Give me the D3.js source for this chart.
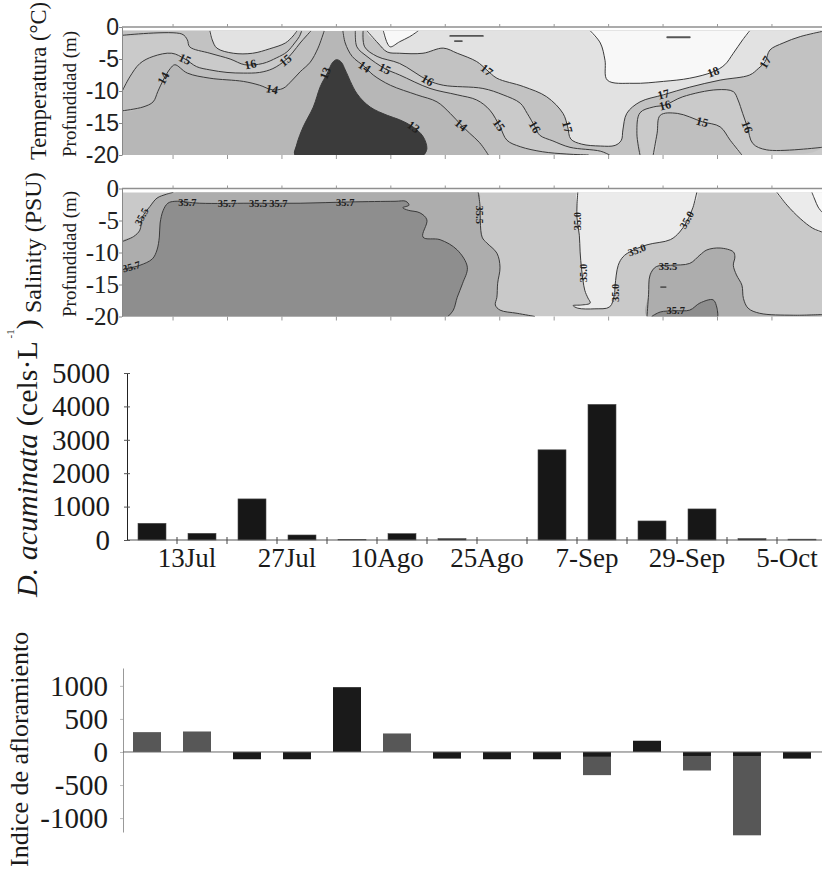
<!DOCTYPE html>
<html><head><meta charset="utf-8">
<script src="https://cdn.jsdelivr.net/npm/d3@7/dist/d3.min.js"></script>
<style>html,body{margin:0;padding:0;background:#fff;} svg{display:block;}</style>
</head><body>
<svg width="822" height="870" xmlns="http://www.w3.org/2000/svg"></svg>
<script>
// ================= DATA =================
// sections: x = day of the survey period, y = depth (m)
const dayExtent = [0, 90];
const depthExtent = [-20, 0];
const sampledTop = -0.6;
const depthTicks = [0, -5, -10, -15, -20];
const weekTicks = [6.5, 13.5, 20.5, 27.5, 34.5, 41.5, 48.5, 55.5, 62.5, 69.5, 76.5, 83.5];

// ---- temperature isotherms [day, depth]
const t13 = [[22.2,-20],[22.5,-18.2],[23.3,-15.6],[24.6,-12.5],[25.5,-9.3],[26.4,-7.2],[27.1,-5.5],[27.6,-5.1],[28.2,-5.5],[28.7,-6.7],[30.2,-10.4],[31.9,-12.5],[34.1,-13.8],[35.7,-14.5],[37.4,-15.6],[38.7,-17.1],[39.2,-19.0],[38.8,-20]];
const t14a = [[0,-13.1],[2.7,-12.5],[4.0,-11.7],[4.6,-10.1],[5.3,-8.3],[6.2,-6.5],[6.8,-5.9],[8.4,-7.2],[11.3,-8.0],[15.6,-8.5],[17.7,-9.1],[19.3,-9.8],[20.7,-9.6],[21.9,-8.3],[22.9,-7.0],[24.2,-5.5],[25.2,-3.3],[26.0,-0.6]];
const t14b = [[28.4,-0.6],[28.7,-2.5],[29.6,-4.6],[31.2,-6.2],[32.3,-7.5],[34.5,-9.1],[37.9,-10.6],[40.5,-11.7],[42.2,-13.5],[43.6,-15.3],[44.7,-16.6],[46.0,-18.1],[47.1,-20]];
const t15a = [[0,-10.1],[1.0,-7.8],[2.3,-5.7],[4.0,-4.6],[6.4,-4.1],[8.1,-5.0],[9.6,-6.2],[11.3,-6.7],[13.5,-7.1],[15.6,-7.2],[17.7,-7.1],[19.4,-6.5],[21.0,-5.2],[22.0,-3.9],[22.9,-2.5],[23.7,-1.4],[24.3,-0.6]];
const t15b = [[30.0,-0.6],[30.2,-3.1],[31.5,-4.6],[33.8,-6.5],[35.7,-7.5],[39.6,-9.6],[43.1,-10.6],[45.6,-11.4],[47.3,-13.0],[48.6,-15.6],[49.5,-17.7],[51.2,-18.7],[54.1,-19.5],[57.2,-19.85],[60.0,-20]];
const t15c = [[68.3,-20],[68.8,-16.6],[69.2,-13.8],[71.4,-13.5],[74.6,-14.8],[76.9,-15.6],[78.2,-17.7],[79.7,-20]];
const t16a = [[0,-1.3],[7.7,-1.1],[8.4,-2.0],[8.7,-3.1],[11.3,-4.1],[13.9,-5.0],[15.8,-5.9],[18.1,-5.7],[19.9,-4.8],[21.2,-3.9],[22.2,-2.5],[22.8,-1.5],[23.1,-0.6]];
const t16b = [[31.0,-0.6],[31.2,-3.1],[32.8,-4.6],[35.7,-5.7],[39.3,-8.3],[41.3,-9.1],[46.4,-9.6],[49.0,-10.6],[51.2,-11.9],[52.1,-13.5],[53.1,-15.6],[53.7,-16.9],[55.4,-17.8],[57.6,-18.8],[61.5,-19.4],[62.7,-20]];
const t16c = [[66.6,-20],[66.2,-16.6],[66.6,-13.4],[68.3,-12.5],[69.8,-12.2],[72.1,-10.9],[76.5,-9.8],[78.6,-10.1],[79.2,-11.4],[79.8,-13.5],[80.4,-15.6],[81.1,-18.2],[82.9,-19.2],[90,-18.8]];
const t17a = [[11.3,-0.6],[11.6,-2.0],[12.2,-3.3],[14.3,-4.1],[16.8,-4.1],[19.0,-3.4],[21.0,-2.5],[22.0,-1.4],[22.5,-0.6]];
const t17b = [[31.5,-0.6],[32.9,-2.5],[34.1,-3.9],[35.7,-4.1],[38.7,-4.1],[41.3,-3.3],[43.1,-4.1],[45.6,-5.4],[46.9,-6.7],[48.2,-8.0],[51.6,-9.3],[54.6,-10.9],[56.7,-13.5],[57.3,-15.6],[57.7,-17.5],[59.1,-18.3],[61.5,-18.6],[63.4,-18.5],[64.2,-17.7],[64.4,-16.1],[64.9,-13.5],[66.6,-11.7],[69.6,-10.6],[73.0,-9.4],[76.9,-8.3],[80.7,-7.5],[81.8,-6.5],[82.7,-5.4],[83.3,-3.6],[85.0,-2.5],[87.2,-1.5],[90,-0.7]];
const t18a = [[33.6,-0.6],[34.1,-2.5],[34.5,-3.1],[35.7,-2.3],[37.0,-1.5],[38.1,-0.6]];
const t18b = [[60.2,-0.6],[61.5,-2.5],[62.1,-5.2],[62.4,-8.3],[65.7,-8.8],[69.6,-8.5],[73.0,-8.0],[76.0,-7.0],[77.5,-5.9],[78.6,-4.1],[79.8,-2.0],[80.7,-0.6]];
const t18specks = [[[42.2,-1.4],[46.4,-1.4]], [[42.8,-2.2],[43.7,-2.2]], [[70.1,-1.6],[73.0,-1.6]]];
// isotherm labels [text, day, depth]
const tempLabels = [["14",5.3,-8.0],["15",8.1,-5.0],["16",16.5,-5.8],["15",21.0,-5.2],["14",19.3,-9.7],["13",26.1,-7.2],["13",37.5,-15.6],["14",31.2,-6.2],["15",33.8,-6.5],["16",39.3,-8.3],["17",46.9,-6.7],["14",43.6,-15.3],["15",48.5,-15.3],["16",53.1,-15.6],["17",57.3,-15.6],["18",76.0,-7.0],["17",69.6,-10.5],["16",69.8,-12.2],["15",74.6,-14.8],["16",80.4,-15.6],["17",82.7,-5.5]];

// ---- salinity isohalines [day, depth]
const s350a = [[58.6,-0.6],[58.5,-2.6],[58.5,-4.6],[58.8,-7.3],[58.9,-9.9],[59.1,-12.7],[59.5,-15.9],[59.9,-17.1],[60.2,-17.9],[59.1,-18.2],[58.0,-18.3],[58.6,-18.7],[60.8,-18.8],[62.7,-18.5],[63.3,-16.6],[63.4,-15.1],[63.8,-12.0],[64.4,-10.7],[65.3,-9.9],[67.5,-8.8],[70.5,-8.0],[71.7,-6.8],[72.6,-5.2],[73.4,-3.0],[73.9,-0.6]];
const s350b = [[84.2,-0.6],[85.5,-2.6],[87.2,-4.7],[88.8,-6.2],[90,-6.8]];
const s345 = [[88.7,-0.6],[89.1,-1.8],[89.5,-2.9],[90,-3.7]];
const s355a = [[0,-8.3],[1.5,-7.5],[2.3,-6.5],[2.6,-4.5],[3.6,-2.8],[4.5,-1.5],[5.7,-0.9],[6.6,-0.6]];
const s355b = [[45.8,-0.6],[46.0,-2.3],[46.3,-7.6],[46.9,-8.5],[48.2,-10.1],[48.6,-12.3],[48.3,-14.8],[48.2,-17.0],[48.0,-18.2],[48.6,-19.0],[50.8,-19.5],[53.1,-20]];
const s355c = [[67.5,-20],[67.7,-16.6],[67.9,-13.5],[68.7,-12.2],[70.5,-12.0],[73.0,-11.7],[74.3,-10.4],[75.2,-9.6],[76.9,-9.3],[78.6,-9.9],[78.8,-10.7],[78.6,-12.0],[79.0,-13.5],[79.7,-15.1],[79.9,-17.2],[80.5,-18.7],[82.0,-19.5],[86.3,-19.8],[90,-19.7]];
const s357a = [[0,-12.7],[2.3,-12.0],[3.9,-11.0],[4.5,-9.6],[4.8,-7.6],[4.9,-5.4],[5.3,-3.4],[5.9,-2.3],[6.8,-2.0],[10.0,-2.3],[16.5,-2.3],[22.9,-2.3],[29.3,-2.1],[35.1,-2.0],[36.5,-2.0],[36.9,-2.6],[36.1,-3.0],[36.8,-3.4],[38.3,-3.8],[39.2,-4.9],[38.7,-7.6],[40.9,-8.0],[43.1,-9.6],[44.4,-12.3],[43.8,-14.8],[43.1,-17.0],[42.6,-19.0],[41.9,-20]];
const s357b = [[68.1,-20],[69.2,-19.3],[71.1,-19.1],[73.0,-19.0],[74.3,-17.9],[76.0,-17.4],[76.5,-18.7],[76.6,-20]];
const salSpecks = [[[69.3,-15.4],[69.9,-15.4]]];
const salLabels = [["35.5",2.5,-4.4],["35.7",1.2,-12.2],["35.7",8.4,-2.2],["35.7",13.5,-2.3],["35.5",17.5,-2.3],["35.7",20.1,-2.3],["35.7",28.7,-2.1],["35.5",46.0,-4.1],["35.0",58.5,-5.1],["35.0",59.3,-13.2],["35.0",63.4,-16.3],["35.0",66.2,-9.6],["35.0",72.6,-4.9],["35.5",70.2,-12.2],["35.7",71.2,-19.0]];

// ---- D. acuminata (cels/L) per sample
const samples = ["M1","M2","M3","M4","M5","M6","M7","M8","M9","M10","M11","M12","M13","M14"];
const acuminata = [500, 200, 1230, 150, 20, 190, 40, 0, 2700, 4060, 570, 930, 40, 25];
const acuminataTicks = [0, 1000, 2000, 3000, 4000, 5000];
const dateLabels = ["13Jul", "27Jul", "10Ago", "25Ago", "7-Sep", "29-Sep", "5-Oct"];
const dateLabelSlots = [1, 3, 5, 7, 9, 11, 13];

// ---- upwelling index per sample (two overlaid series)
const upwellingGray = [300, 310, null, null, null, 280, null, null, null, -350, null, -280, -1260, null];
const upwellingBlack = [null, null, -110, -110, 980, null, -100, -110, -110, -70, 170, -60, -60, -100];
const upwellingTicks = [1000, 500, 0, -500, -1000];

// ================= STYLE =================
const serif = "'Liberation Serif','Times New Roman',serif";
const sans = "'Liberation Sans',Arial,sans-serif";
const tempColor = {base: "#b7b7b7", 13: "#3b3b3b", 14: "#bfbfbf", 15: "#cacaca", 16: "#c2c2c2", 17: "#e2e2e2", 18: "#f8f8f8"};
const salColor = {base: "#c9c9c9", 34.5: "#f9f9f9", 35.0: "#ebebeb", 35.5: "#adadad", 35.7: "#8e8e8e"};
const tempAngles = [-62, 25, -12, -40, 12, -68, 35, 35, 25, 30, 38, 40, 55, 60, 75, -20, -15, -15, 15, 70, -60];
const salAngles = [-62, -15, 0, 0, 0, 0, 0, 90, -90, -90, -90, -20, -60, 0, 0];

const svg = d3.select("svg");
const xSec = d3.scaleLinear().domain(dayExtent).range([122, 822]);
const yT = d3.scaleLinear().domain(depthExtent).range([155, 27]);
const yS = d3.scaleLinear().domain(depthExtent).range([316.5, 188.5]);

const X0 = dayExtent[0], X1 = dayExtent[1], TOP = sampledTop, BOT = depthExtent[0];

const tempFills = [
  {c: 14, p: [[X0, TOP], ...t14a]},
  {c: 14, p: [...t14b, [X1, BOT], [X1, TOP]]},
  {c: 15, p: [[X0, TOP], ...t15a]},
  {c: 15, p: [...t15b, ...t15c, [X1, BOT], [X1, TOP]]},
  {c: 16, p: [[X0, TOP], ...t16a]},
  {c: 16, p: [...t16b, ...t16c, [X1, TOP]]},
  {c: 17, p: t17a},
  {c: 17, p: [...t17b, [X1, TOP]]},
  {c: 18, p: t18a},
  {c: 18, p: t18b},
  {c: 13, p: t13}
];
const tempLines = [t13, t14a, t14b, t15a, t15b, t15c, t16a, t16b, t16c, t17a, t17b, t18a, t18b];

const salFills = [
  {c: 35.5, p: [...s355a, ...s355b, [X0, BOT]]},
  {c: 35.5, p: [...s355c, [X1, BOT]]},
  {c: 35.7, p: [...s357a, [X0, BOT]]},
  {c: 35.7, p: s357b},
  {c: 35.0, p: s350a},
  {c: 35.0, p: [...s350b, [X1, TOP]]},
  {c: 34.5, p: [...s345, [X1, TOP]]}
];
const salLines = [s350a, s350b, s345, s355a, s355b, s355c, s357a, s357b];

function drawSection(key, y, spec) {
  const g = svg.append("g");
  const x0 = xSec(X0), x1 = xSec(X1), yTop = y(TOP), yBot = y(BOT);
  g.append("clipPath").attr("id", "clip-" + key).append("rect")
    .attr("x", x0).attr("y", yTop).attr("width", x1 - x0).attr("height", yBot - yTop);
  const body = g.append("g").attr("clip-path", `url(#clip-${key})`);
  body.append("rect").attr("x", x0).attr("y", yTop).attr("width", x1 - x0).attr("height", yBot - yTop)
    .attr("fill", spec.colors.base);
  const area = d3.line().x(d => xSec(d[0])).y(d => y(d[1])).curve(d3.curveCatmullRomClosed.alpha(0.5));
  const line = d3.line().x(d => xSec(d[0])).y(d => y(d[1])).curve(d3.curveCatmullRom.alpha(0.5));
  spec.fills.forEach(f => body.append("path").attr("d", area(f.p)).attr("fill", spec.colors[f.c]));
  spec.lines.forEach(p => body.append("path").attr("d", line(p)).attr("fill", "none")
    .attr("stroke", "#3a3a3a").attr("stroke-width", 1));
  spec.specks.forEach(p => body.append("path").attr("d", line(p)).attr("fill", "none")
    .attr("stroke", "#555").attr("stroke-width", 1.8).attr("stroke-linecap", "round"));
  spec.labels.forEach((l, i) => {
    body.append("text")
      .attr("transform", `translate(${xSec(l[1])},${y(l[2])}) rotate(${spec.angles[i]})`)
      .attr("text-anchor", "middle").attr("dy", "0.35em")
      .attr("font-family", serif).attr("font-size", spec.labelSize).attr("font-weight", "bold")
      .attr("fill", "#1e1e1e").text(l[0]);
  });
  // frame line on top
  g.append("line").attr("x1", x0).attr("x2", x1).attr("y1", y(0)).attr("y2", y(0))
    .attr("stroke", "#8f8f8f").attr("stroke-width", 1.6);
  // week ticks
  g.append("g").attr("transform", `translate(0,${y(0)})`)
    .call(d3.axisTop(xSec).tickValues(weekTicks).tickSize(3).tickFormat(""))
    .call(s => { s.select(".domain").remove(); s.selectAll("line").attr("stroke", "#999"); });
  g.append("g").attr("transform", `translate(0,${yBot})`)
    .call(d3.axisBottom(xSec).tickValues(weekTicks).tickSize(4).tickFormat(""))
    .call(s => { s.select(".domain").remove(); s.selectAll("line").attr("stroke", "#999"); });
  // depth axis
  g.append("g").attr("transform", `translate(${x0},0)`)
    .call(d3.axisLeft(y).tickValues(depthTicks).tickSize(3).tickSizeOuter(0).tickPadding(0).tickFormat(d => String(d)))
    .call(s => {
      s.select(".domain").attr("stroke", "#888");
      s.selectAll(".tick line").attr("stroke", "#888");
      s.selectAll("text").attr("font-family", spec.tickFont).attr("font-size", spec.tickSize).attr("fill", "#222");
    });
}

drawSection("temp", yT, {colors: tempColor, fills: tempFills, lines: tempLines, specks: t18specks,
  labels: tempLabels, angles: tempAngles, labelSize: 12, tickFont: sans, tickSize: 23});
drawSection("sal", yS, {colors: salColor, fills: salFills, lines: salLines, specks: salSpecks,
  labels: salLabels, angles: salAngles, labelSize: 10.5, tickFont: serif, tickSize: 25});

// section titles
function vtext(x, y, size, txt, font) {
  return svg.append("text").attr("transform", `translate(${x},${y}) rotate(-90)`)
    .attr("font-family", font || serif).attr("font-size", size).attr("fill", "#1a1a1a").text(txt);
}
vtext(46, 160, 22.5, "Temperatura (°C)");
vtext(41, 313, 24, "Salinity (PSU)");
vtext(76, 157, 19, "Profundidad (m)");
vtext(76, 317, 19, "Profundidad (m)");

// ================= D. acuminata bars =================
const xBar = d3.scaleBand().domain(samples).range([127, 827]).paddingInner(0.44).paddingOuter(0.22);
const yBar = d3.scaleLinear().domain([0, 5000]).range([540, 373]);
const gB = svg.append("g");
gB.selectAll("rect").data(samples).join("rect")
  .attr("x", d => xBar(d)).attr("width", xBar.bandwidth())
  .attr("y", (d, i) => yBar(acuminata[i])).attr("height", (d, i) => yBar(0) - yBar(acuminata[i]))
  .attr("fill", "#171717").attr("stroke", "#4a4a4a").attr("stroke-width", 0.6);
gB.append("line").attr("x1", 127).attr("x2", 822).attr("y1", yBar(0)).attr("y2", yBar(0))
  .attr("stroke", "#555").attr("stroke-width", 1);
const step = xBar.step(), r0 = xBar.range()[0];
gB.selectAll("line.bt").data(d3.range(1, samples.length)).join("line").attr("class", "bt")
  .attr("x1", k => r0 + k * step).attr("x2", k => r0 + k * step)
  .attr("y1", yBar(0) - 3).attr("y2", yBar(0) + 4).attr("stroke", "#444");
gB.append("g").attr("transform", "translate(127,0)")
  .call(d3.axisLeft(yBar).tickValues(acuminataTicks).tickSize(3).tickSizeOuter(0).tickPadding(14).tickFormat(d => String(d)))
  .call(s => {
    s.select(".domain").attr("stroke", "#222");
    s.selectAll(".tick line").attr("x2", 3).attr("x1", -3).attr("stroke", "#555");
    s.selectAll("text").attr("font-family", serif).attr("font-size", 29).attr("fill", "#1a1a1a");
  });
gB.selectAll("text.dl").data(dateLabels).join("text").attr("class", "dl")
  .attr("x", (d, i) => r0 + dateLabelSlots[i] * step + 10).attr("y", 567)
  .attr("text-anchor", "middle").attr("font-family", serif).attr("font-size", 27).attr("fill", "#1a1a1a")
  .text(d => d);
const yl = svg.append("text").attr("transform", "translate(37,597) rotate(-90)")
  .attr("font-family", serif).attr("font-size", 30).attr("fill", "#1a1a1a");
yl.append("tspan").attr("font-style", "italic").text("D. acuminata");
yl.append("tspan").text(" (cels·L");
yl.append("tspan").attr("font-size", 11).attr("dy", -23).text(" -1");
yl.append("tspan").attr("dy", 23).text(")");

// ================= Upwelling index =================
const xUp = d3.scaleBand().domain(samples).range([122, 822]).paddingInner(0.44).paddingOuter(0.22);
const yUp = d3.scaleLinear().domain([-1210, 1270]).range([832, 668]);
const gU = svg.append("g");
gU.append("g").attr("transform", "translate(123,0)")
  .call(d3.axisLeft(yUp).tickValues(upwellingTicks).tickSize(3).tickSizeOuter(0).tickPadding(12).tickFormat(d => String(d)))
  .call(s => {
    s.select(".domain").attr("stroke", "#999");
    s.selectAll(".tick line").attr("stroke", "#bbb");
    s.selectAll("text").attr("font-family", serif).attr("font-size", 29).attr("fill", "#1a1a1a");
  });
function upBars(values, color) {
  gU.append("g").selectAll("rect").data(samples.filter((d, i) => values[i] !== null)).join("rect")
    .attr("x", d => xUp(d)).attr("width", xUp.bandwidth())
    .attr("y", d => yUp(Math.max(0, values[samples.indexOf(d)])))
    .attr("height", d => Math.abs(yUp(values[samples.indexOf(d)]) - yUp(0)))
    .attr("fill", color);
}
upBars(upwellingGray, "#575757");
upBars(upwellingBlack, "#1a1a1a");
gU.append("line").attr("x1", 123).attr("x2", 822).attr("y1", yUp(0)).attr("y2", yUp(0))
  .attr("stroke", "#666").attr("stroke-width", 1);
vtext(28, 867, 26, "Indice de afloramiento");
</script></body></html>
